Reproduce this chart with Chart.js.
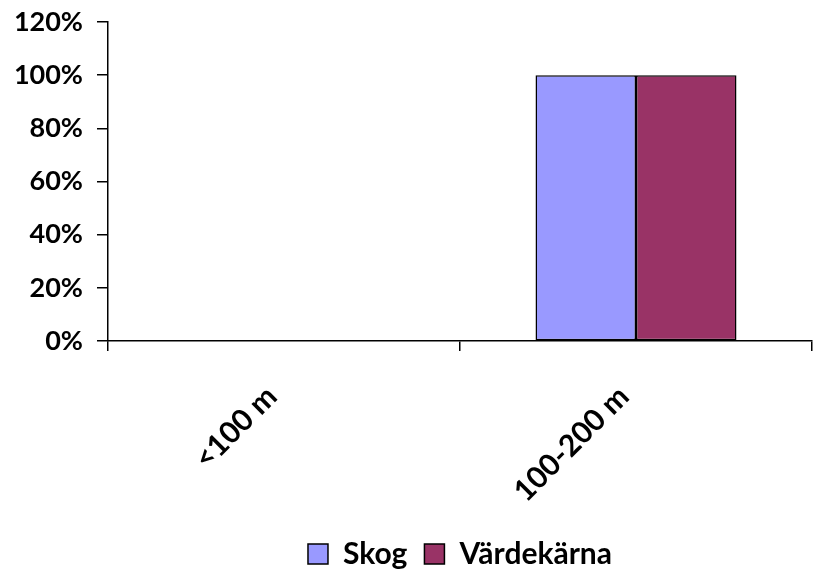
<!DOCTYPE html>
<html>
<head>
<meta charset="utf-8">
<script src="https://cdn.jsdelivr.net/npm/chart.js@4.4.0/dist/chart.umd.min.js"></script>
<style>
html,body{margin:0;padding:0;background:#fff;}
#wrap{width:815px;height:569px;position:relative;}
</style>
</head>
<body>
<div id="wrap"><canvas id="c" width="815" height="569"></canvas></div>
<script>
const categories = ["<100 m", "100-200 m"];
const skogValues = [0, 100];
const vardekarnaValues = [0, 100];
const seriesNames = ["Skog", "Värdekärna"];

const FONT = "Lato, 'Open Sans', sans-serif";

new Chart(document.getElementById('c'), {
  type: 'bar',
  data: {
    labels: categories,
    datasets: [
      { label: seriesNames[0], data: skogValues, backgroundColor: '#9999FF', borderColor: '#000', borderWidth: 1.5, borderSkipped: false },
      { label: seriesNames[1], data: vardekarnaValues, backgroundColor: '#993366', borderColor: '#000', borderWidth: 1.5, borderSkipped: false }
    ]
  },
  options: {
    responsive: false,
    animation: false,
    devicePixelRatio: 1,
    layout: { padding: { top: 22, right: 3, left: 0, bottom: -10 } },
    datasets: { bar: { categoryPercentage: 0.571, barPercentage: 1.0 } },
    plugins: {
      legend: {
        position: 'bottom',
        fullSize: false,
        labels: {
          color: '#000',
          font: { family: FONT, size: 30, weight: 'bold' },
          boxWidth: 20, boxHeight: 20,
          padding: 17,
          generateLabels(chart) {
            return chart.data.datasets.map((d, i) => ({
              text: d.label, fillStyle: d.backgroundColor, strokeStyle: '#000', lineWidth: 1.5, datasetIndex: i, fontColor: '#000'
            }));
          }
        }
      },
      tooltip: { enabled: false }
    },
    scales: {
      x: {
        grid: { display: true, drawOnChartArea: false, drawTicks: true, tickLength: 10, color: '#000', lineWidth: 1.5, offset: true },
        border: { display: true, color: '#000', width: 1.5 },
        ticks: { color: '#000', font: { family: FONT, size: 30, weight: 'bold' }, maxRotation: 45, minRotation: 45, padding: 28, labelOffset: -12 },
        afterFit(scale) { scale.height = 181; scale.paddingLeft = 0; scale.paddingRight = 0; }
      },
      y: {
        min: 0, max: 120,
        grid: { display: true, drawOnChartArea: false, drawTicks: true, tickLength: 11, color: '#000', lineWidth: 1.5 },
        border: { display: true, color: '#000', width: 1.5 },
        ticks: { stepSize: 20, color: '#000', font: { family: FONT, size: 27, weight: 'bold' }, padding: 14, callback: v => v + '%' },
        afterFit(scale) { scale.width = 108; scale.paddingTop = 0; scale.paddingBottom = 0; }
      }
    }
  }
});
</script>
</body>
</html>
